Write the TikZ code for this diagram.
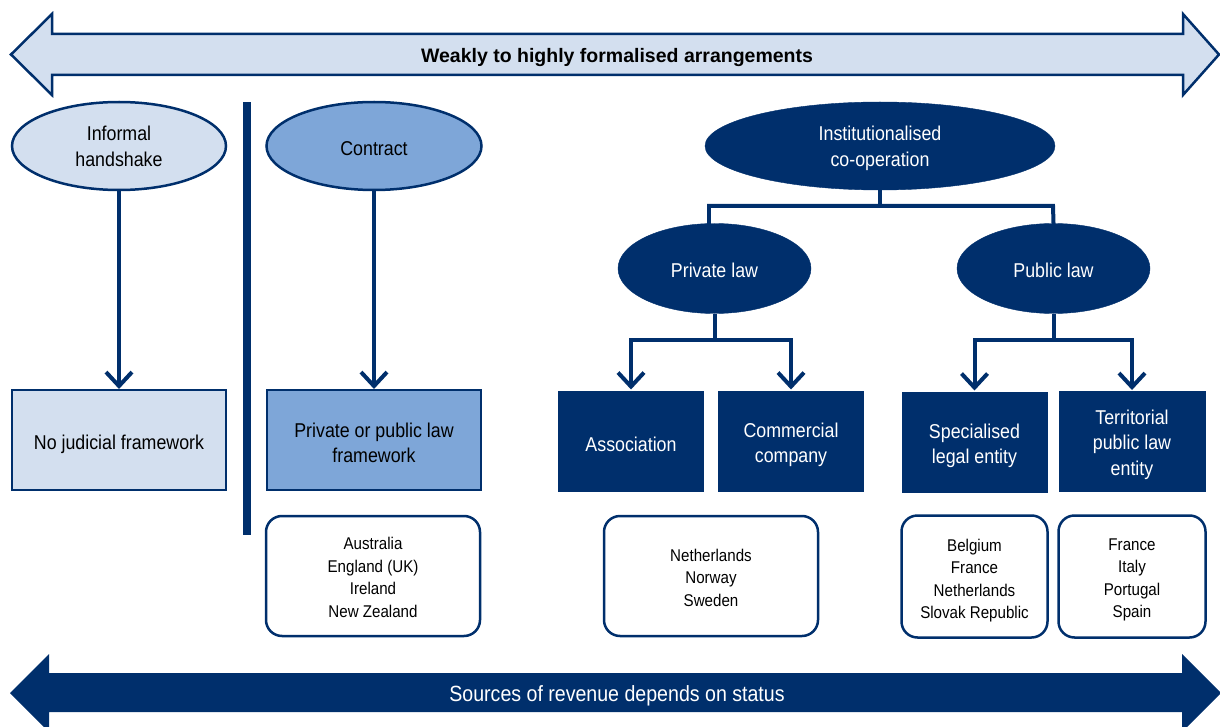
\documentclass[tikz,border=0pt]{standalone}
\usepackage{fontspec}
\setmainfont{Liberation Sans}[FakeStretch=0.89]
\newfontfamily\titlefont{Liberation Sans}
\usetikzlibrary{shapes.geometric,arrows.meta}
\definecolor{navy}{RGB}{0,47,108}
\definecolor{lightb}{RGB}{211,223,239}
\definecolor{midb}{RGB}{126,166,216}
\newcommand{\lowtxt}[2][-4pt]{\raisebox{#1}[\height][\depth]{\begin{tabular}{@{}c@{}}#2\end{tabular}}}
\tikzset{
  txt/.style={font=\fontsize{20}{25.5}\selectfont, align=center},
  ell/.style={ellipse, draw=navy, line width=2.5pt, inner sep=0pt, txt},
  darkell/.style={ellipse, fill=navy, draw=navy, inner sep=0pt, txt, text=white},
  box/.style={rectangle, draw=navy, line width=2pt, inner sep=0pt, txt},
  darkbox/.style={rectangle, fill=navy, draw=white, line width=1pt, inner sep=0pt, txt, text=white,
     minimum width=147pt, minimum height=102pt},
  cbox/.style={rectangle, rounded corners=16pt, draw=navy, line width=2.5pt, fill=white, inner sep=0pt,
     align=center, font=\fontsize{17}{22.5}\selectfont},
  conn/.style={draw=navy, line width=4pt, -{Straight Barb[length=14pt,width=26pt,line width=4pt]}},
  treeline/.style={draw=navy, line width=4pt},
}
\begin{document}
\begin{tikzpicture}[x=1pt,y=-1pt]
\useasboundingbox (0,0) rectangle (1220,727);
% top double arrow
\draw[navy, line width=2.5pt, fill=lightb, line join=miter]
  (11,54.5) -- (52,14) -- (52,34) -- (1183,34) -- (1183,14) -- (1219,54.5)
  -- (1183,95) -- (1183,75) -- (52,75) -- (52,95) -- cycle;
\node[font=\titlefont\bfseries\fontsize{19.5}{24}\selectfont] (title) at (617,57.5) {Weakly to highly formalised arrangements};
% bottom double arrow
\fill[navy] (10,693) -- (49,654) -- (49,673) -- (1182,673) -- (1182,654) -- (1221,693)
  -- (1182,732) -- (1182,712) -- (49,712) -- (49,732) -- cycle;
\node[text=white, font=\fontsize{22}{26}\selectfont] (rev) at (617,695.5) {Sources of revenue depends on status};
% separator
\fill[navy] (243,102) rectangle (251,535);
% left columns
\node[ell, fill=lightb, minimum width=214pt, minimum height=88pt] (ih) at (119,146) {\lowtxt[-2.5pt]{Informal\\handshake}};
\node[ell, fill=midb, minimum width=215pt, minimum height=88pt] (ct) at (374,146) {\lowtxt{Contract}};
\node[box, fill=lightb, minimum width=214pt, minimum height=100pt] (nj) at (119,440) {\lowtxt{No judicial framework}};
\node[box, fill=midb, minimum width=214pt, minimum height=100pt] (pf) at (374,440) {\lowtxt[-5pt]{Private or public law\\framework}};
\node[cbox, minimum width=214pt, minimum height=120pt] (c1) at (373,576) {\lowtxt[-3pt]{Australia\\England (UK)\\Ireland\\New Zealand}};
\draw[conn] (ih.south) -- (nj.north);
\draw[conn] (ct.south) -- (pf.north);
% institutionalised tree
\node[darkell, minimum width=350pt, minimum height=88pt] (inst) at (880,146) {\lowtxt[-2.5pt]{Institutionalised\\co-operation}};
\node[darkell, minimum width=193pt, minimum height=90pt] (pl) at (714.5,268.5) {\lowtxt{Private law}};
\node[darkell, minimum width=193pt, minimum height=90pt] (pu) at (1053.5,268.5) {\lowtxt{Public law}};
\draw[treeline] (inst.south) -- ++(0,16) coordinate (j1);
\draw[treeline] (709,206) -- (709,226);
\draw[treeline, line cap=rect] (709,206) -- (1053,206) -- (pu.north);
\node[darkbox] (as) at (631,441) {\lowtxt[-5pt]{Association}};
\node[darkbox] (cc) at (791,441) {\lowtxt{Commercial\\company}};
\node[darkbox] (sl) at (974.5,442) {\lowtxt{Specialised\\legal entity}};
\node[darkbox, minimum width=148pt] (tp) at (1132,441.5) {\lowtxt[-3pt]{Territorial\\public law\\entity}};
\draw[treeline] (pl.south) -- ++(0,26) coordinate (j2);
\draw[conn] (j2) -| (as.north);
\draw[conn] (j2) -| (cc.north);
\draw[treeline] (pu.south) -- ++(0,26) coordinate (j3);
\draw[conn] (j3) -| (sl.north);
\draw[conn] (j3) -| (tp.north);
\node[cbox, minimum width=214pt, minimum height=120pt] (c2) at (711,576) {\lowtxt[-3pt]{Netherlands\\Norway\\Sweden}};
\node[cbox, minimum width=146pt, minimum height=122pt] (c3) at (974.5,576.5) {\lowtxt[-4pt]{Belgium\\France\\Netherlands\\Slovak Republic}};
\node[cbox, minimum width=147pt, minimum height=122pt] (c4) at (1132,576.5) {\lowtxt[-3pt]{France\\Italy\\Portugal\\Spain}};
\end{tikzpicture}
\end{document}
